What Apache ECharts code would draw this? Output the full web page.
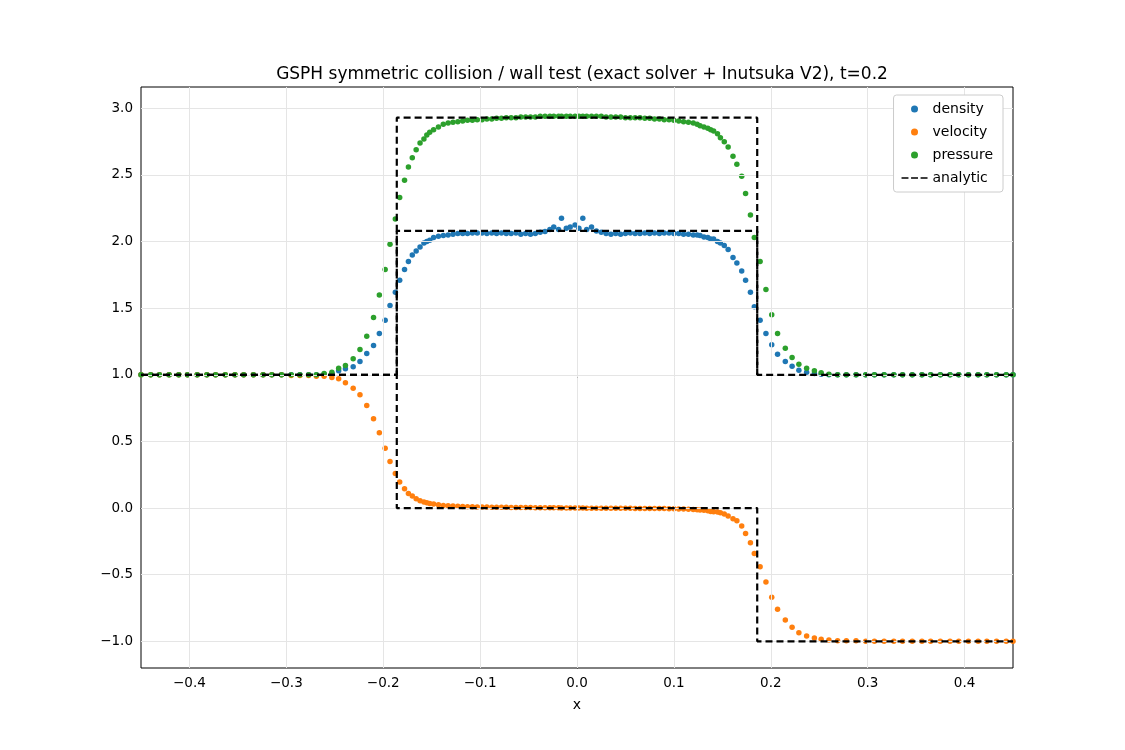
<!DOCTYPE html>
<html><head><meta charset="utf-8">
<script src="https://cdn.jsdelivr.net/npm/echarts@6/dist/echarts.min.js"></script>
<style>html,body{margin:0;padding:0;background:#fff}#c{width:1125px;height:750px}</style>
</head><body><div id="c"></div>
<script>
const xs = [-0.450,-0.440,-0.431,-0.421,-0.411,-0.402,-0.392,-0.382,-0.373,-0.363,-0.353,-0.344,-0.334,-0.324,-0.315,-0.305,-0.295,-0.286,-0.277,-0.269,-0.261,-0.253,
-0.246,-0.239,-0.231,-0.224,-0.217,-0.210,-0.204,-0.198,-0.193,-0.1875,-0.183,-0.178,-0.174,-0.170,-0.166,-0.162,-0.158,-0.155,-0.152,-0.148,-0.143,-0.138,-0.133,
-0.128,-0.123,-0.118,-0.113,-0.108,-0.103,-0.098,-0.093,-0.088,-0.083,-0.078,-0.073,-0.068,-0.063,-0.058,-0.053,-0.048,-0.043,-0.038,-0.033,-0.028,-0.024,-0.019,-0.016,-0.011,-0.007,-0.002,
0.002,0.006,0.010,0.015,0.020,0.025,0.030,0.035,0.040,0.045,0.050,0.055,0.060,0.065,0.070,0.075,0.080,0.085,0.090,0.095,0.100,0.105,0.110,0.115,0.120,0.124,0.127,0.131,0.135,0.138,0.141,0.145,0.148,0.152,0.156,
0.161,0.165,0.170,0.174,0.179,0.183,0.189,0.195,0.201,0.207,0.215,0.222,0.229,0.237,0.245,0.252,0.260,0.269,
0.278,0.288,0.298,0.307,0.317,0.327,0.336,0.346,0.356,0.365,0.375,0.385,0.394,0.404,0.414,0.423,0.433,0.443,0.450];
const density = [1,1,1,1,1,1,1,1,1,1,1,1,1,1,1,1,1,1,1,1,1.005,1.01,
1.03,1.045,1.06,1.10,1.16,1.22,1.31,1.41,1.52,1.62,1.71,1.79,1.85,1.90,1.93,1.96,1.99,2.00,2.01,2.03,2.04,2.045,2.05,
2.055,2.06,2.06,2.06,2.065,2.065,2.065,2.06,2.065,2.06,2.065,2.06,2.06,2.065,2.055,2.06,2.055,2.06,2.07,2.075,2.09,2.11,2.09,2.175,2.10,2.11,2.125,
2.10,2.175,2.09,2.11,2.08,2.07,2.06,2.055,2.06,2.055,2.06,2.065,2.06,2.06,2.065,2.06,2.065,2.06,2.065,2.065,2.06,2.06,2.055,2.055,2.05,2.05,2.045,2.035,2.03,2.02,2.02,2.00,1.99,1.97,1.94,
1.88,1.84,1.78,1.71,1.62,1.51,1.41,1.31,1.225,1.155,1.10,1.065,1.035,1.02,1.01,1.005,1.0,1.0,
1,1,1,1,1,1,1,1,1,1,1,1,1,1,1,1,1,1,1];
const velocity = [1,1,1,1,1,1,1,1,1,1,1,1,1,1,1,1,0.995,0.995,0.995,0.99,0.99,0.98,
0.97,0.94,0.90,0.85,0.77,0.67,0.565,0.45,0.35,0.26,0.195,0.145,0.11,0.09,0.07,0.055,0.045,0.04,0.035,0.03,0.025,0.02,0.017,
0.015,0.013,0.012,0.011,0.01,0.009,0.008,0.008,0.007,0.007,0.006,0.006,0.005,0.005,0.004,0.004,0.004,0.003,0.003,0.003,0.002,0.002,0.002,0.001,0.001,0.001,0.0,
0.0,0.0,-0.001,-0.001,-0.001,-0.001,-0.001,-0.002,-0.002,-0.002,-0.002,-0.002,-0.003,-0.003,-0.003,-0.003,-0.004,-0.004,-0.004,-0.005,-0.005,-0.006,-0.007,-0.008,-0.01,-0.012,-0.014,-0.017,-0.02,-0.025,-0.028,-0.03,-0.035,-0.045,-0.06,
-0.08,-0.095,-0.135,-0.19,-0.26,-0.34,-0.44,-0.555,-0.67,-0.76,-0.84,-0.895,-0.935,-0.96,-0.975,-0.985,-0.99,-0.995,
-0.995,-0.995,-1,-1,-1,-1,-1,-1,-1,-1,-1,-1,-1,-1,-1,-1,-1,-1,-1];
const pressure = [1,1,1,1,1,1,1,1,1,1,1,1,1,1,1,1,1,1,1,1,1.01,1.02,
1.05,1.07,1.12,1.19,1.29,1.43,1.60,1.79,1.98,2.17,2.33,2.46,2.56,2.63,2.69,2.74,2.77,2.80,2.82,2.84,2.86,2.88,2.89,
2.895,2.90,2.905,2.91,2.91,2.915,2.915,2.92,2.92,2.925,2.925,2.93,2.93,2.93,2.935,2.935,2.935,2.935,2.94,2.94,2.94,2.94,2.94,2.94,2.94,2.94,2.94,
2.94,2.94,2.94,2.94,2.94,2.94,2.935,2.935,2.935,2.935,2.93,2.93,2.93,2.93,2.925,2.925,2.92,2.92,2.915,2.915,2.91,2.905,2.90,2.895,2.89,2.88,2.87,2.86,2.85,2.84,2.83,2.81,2.78,2.75,2.71,
2.64,2.58,2.49,2.36,2.20,2.03,1.85,1.64,1.45,1.31,1.20,1.13,1.08,1.05,1.03,1.015,1.005,1.0,
1,1,1,1,1,1,1,1,1,1,1,1,1,1,1,1,1,1,1];
const rhoExactX = [-0.45,-0.186,-0.186,0.186,0.186,0.45];
const rhoExactY = [1,1,2.08,2.08,1,1];
const velExactX = [-0.45,-0.186,-0.186,0.186,0.186,0.45];
const velExactY = [1,1,0,0,-1,-1];
const preExactX = [-0.186,-0.186,0.186,0.186];
const preExactY = [1,2.93,2.93,1];
const xTicks = [-0.4,-0.3,-0.2,-0.1,0,0.1,0.2,0.3,0.4];
const yTicks = [-1,-0.5,0,0.5,1,1.5,2,2.5,3];

const zip = (a,b)=>a.map((v,i)=>[v,b[i]]);
const fmt = v => v.toFixed(1).replace('-','\u2212');
const F = 'DejaVu Sans';
const scat = (name,color,ys)=>({name,type:'scatter',data:zip(xs,ys),symbolSize:5.5,itemStyle:{color,opacity:1},emphasis:{disabled:true}});
const exact = (xx,yy)=>({name:'analytic',type:'line',data:zip(xx,yy),symbol:'none',lineStyle:{color:'#000',width:2.2,type:[7,4]},itemStyle:{color:'#000'},z:5,emphasis:{disabled:true}});
const chart = echarts.init(document.getElementById('c'));
chart.setOption({
  animation:false,
  title:{text:'GSPH symmetric collision / wall test (exact solver + Inutsuka V2), t=0.2',left:577,textAlign:'center',top:61,textStyle:{fontFamily:F,fontSize:17,fontWeight:'normal',color:'#000'}},
  grid:{left:141,right:112,top:87,bottom:82,show:true,borderColor:'#000',borderWidth:1,backgroundColor:'transparent'},
  legend:{orient:'vertical',right:122,top:95,padding:[7,10,7,8],itemGap:9,itemWidth:26,itemHeight:7,borderColor:'#ccc',borderWidth:1,borderRadius:3,backgroundColor:'#fff',z:20,
    textStyle:{fontFamily:F,fontSize:14,color:'#000'},
    data:[{name:'density',icon:'circle'},{name:'velocity',icon:'circle'},{name:'pressure',icon:'circle'},
      {name:'analytic',icon:'path://M0,0L8,0L8,2L0,2Z M11,0L19,0L19,2L11,2Z M22,0L30,0L30,2L22,2Z',itemStyle:{color:'#000'}}]},
  xAxis:{type:'value',min:-0.45,max:0.45,name:'x',nameLocation:'middle',nameGap:30,nameTextStyle:{fontFamily:F,fontSize:14,color:'#000'},
    axisLine:{lineStyle:{color:'#000'}},axisTick:{customValues:xTicks,length:5,lineStyle:{color:'#000'}},
    axisLabel:{customValues:xTicks,formatter:fmt,fontFamily:F,fontSize:13.5,color:'#000',margin:8},
    splitLine:{show:false}},
  yAxis:{type:'value',min:-1.2,max:3.16,
    axisLine:{show:true,lineStyle:{color:'#000'}},axisTick:{show:true,customValues:yTicks,length:5,lineStyle:{color:'#000'}},
    axisLabel:{customValues:yTicks,formatter:fmt,fontFamily:F,fontSize:13.5,color:'#000',margin:8},
    splitLine:{show:false}},
  series:[
    scat('density','#1f77b4',density),
    scat('velocity','#ff7f0e',velocity),
    scat('pressure','#2ca02c',pressure),
    exact(rhoExactX,rhoExactY),exact(velExactX,velExactY),exact(preExactX,preExactY),
    {type:'line',data:[],silent:true,z:0,markLine:{silent:true,symbol:'none',label:{show:false},lineStyle:{color:'#e5e5e5',width:1,type:'solid'},
      data:xTicks.map(v=>({xAxis:v})).concat(yTicks.map(v=>({yAxis:v})))}}
  ]
});
</script></body></html>
